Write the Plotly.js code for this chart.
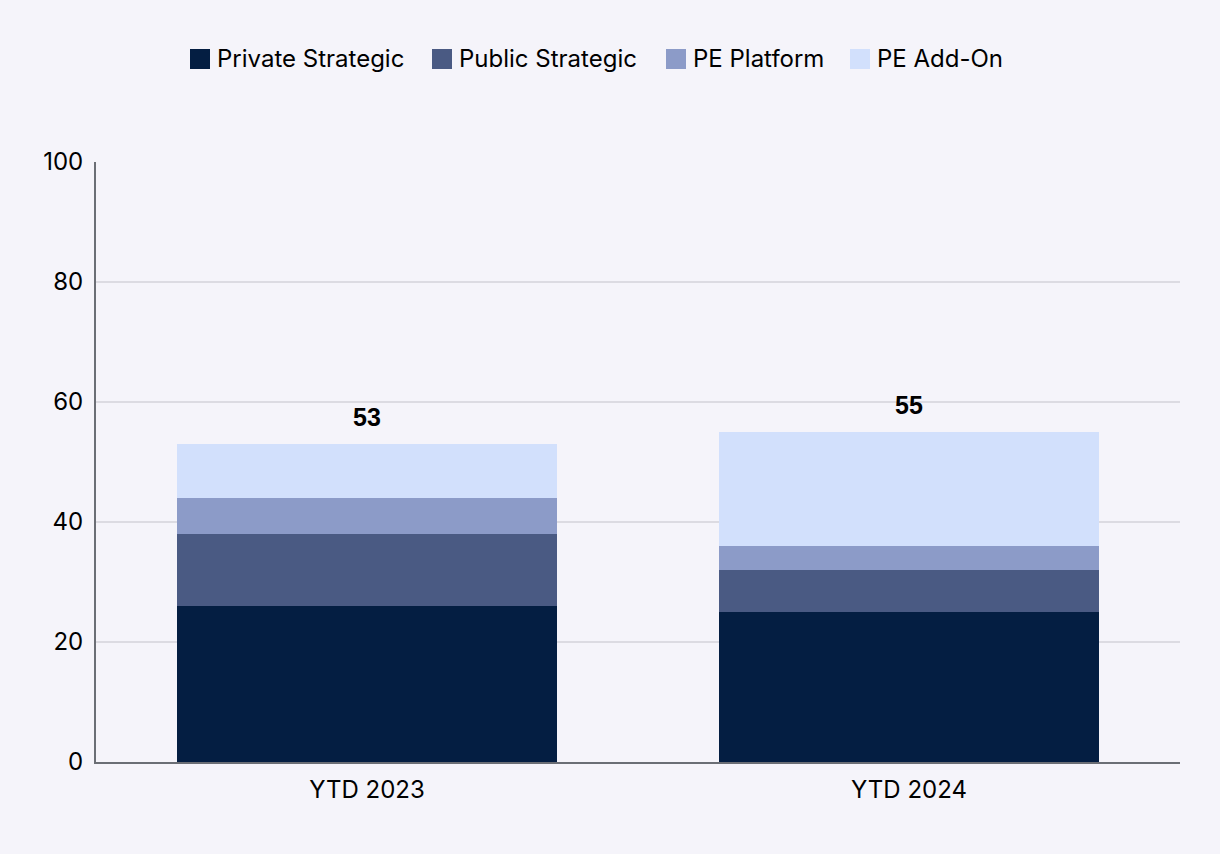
<!DOCTYPE html>
<html>
<head>
<meta charset="utf-8">
<script src="https://cdn.plot.ly/plotly-3.0.1.min.js"></script>
<style>html,body{margin:0;padding:0;background:#f5f4fa;}#chart{width:1220px;height:854px;}</style>
</head>
<body>
<div id="chart"></div>
<script>
const categories = ["YTD 2023", "YTD 2024"];
const seriesNames = ["Private Strategic", "Public Strategic", "PE Platform", "PE Add-On"];
const privateStrategic = [26, 25];
const publicStrategic = [12, 7];
const pePlatform = [6, 4];
const peAddOn = [9, 19];
const colors = ["#041e42", "#4a5a83", "#8c9bc8", "#d2e0fc"];

const seriesValues = [privateStrategic, publicStrategic, pePlatform, peAddOn];
const totals = categories.map((c, i) => seriesValues.reduce((s, arr) => s + arr[i], 0));

const traces = seriesValues.map((vals, k) => ({
  type: "bar",
  name: seriesNames[k],
  x: categories,
  y: vals,
  marker: {color: colors[k], line: {width: 0}},
  hoverinfo: "x+y+name",
  showlegend: false
}));

const FONT = "Inter, sans-serif";
const annotations = categories.map((c, i) => ({
  x: c, y: totals[i], xref: "x", yref: "y",
  text: "<b>" + totals[i] + "</b>",
  showarrow: false, yanchor: "bottom", yshift: 11,
  font: {family: "Liberation Sans, Arial, sans-serif", size: 25, color: "#000000"}
}));

// custom legend (large square swatches), laid out in pixel space
const W = 1220, H = 854, ml = 96, mr = 40, mt = 162, mb = 92;
const pw = W - ml - mr, ph = H - mt - mb;
const px = x => (x - ml) / pw;
const py = y => (H - mb - y) / ph;
const legendLeft = [190, 432, 666, 850];
const shapes = [];
seriesNames.forEach((n, k) => {
  shapes.push({type: "rect", xref: "paper", yref: "paper",
    x0: px(legendLeft[k]), x1: px(legendLeft[k] + 20), y0: py(69), y1: py(49),
    fillcolor: colors[k], line: {width: 0}});
  annotations.push({xref: "paper", yref: "paper", x: px(legendLeft[k] + 25), y: py(58),
    xanchor: "left", yanchor: "middle", showarrow: false, text: n,
    font: {family: FONT, size: 24, color: "#000000"}});
});

const layout = {
  width: W, height: H,
  paper_bgcolor: "#f5f4fa", plot_bgcolor: "#f5f4fa",
  margin: {l: ml, r: mr, t: mt, b: mb},
  barmode: "stack",
  bargap: 0.3,
  font: {family: FONT, size: 24, color: "#000000"},
  showlegend: false,
  xaxis: {showline: true, linecolor: "#6b6e75", linewidth: 2, ticks: "", showgrid: false,
          tickfont: {size: 24}, ticklabelstandoff: 5},
  yaxis: {range: [0, 100], dtick: 20, showline: true, linecolor: "#6b6e75", linewidth: 2,
          gridcolor: "#dcdbe2", gridwidth: 1.5, zeroline: false, ticks: "", tickfont: {size: 24},
          ticklabelstandoff: 6},
  shapes: shapes,
  annotations: annotations
};

Plotly.newPlot("chart", traces, layout, {displayModeBar: false, staticPlot: true});
</script>
</body>
</html>
